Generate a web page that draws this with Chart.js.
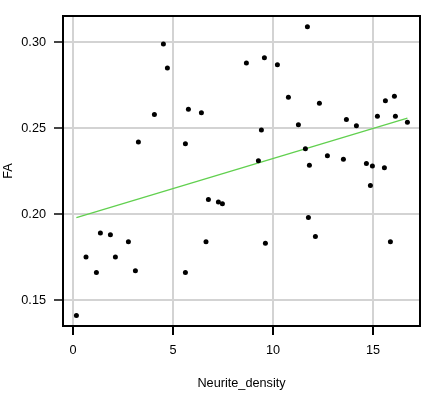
<!DOCTYPE html>
<html>
<head>
<meta charset="utf-8">
<script src="https://cdn.jsdelivr.net/npm/chart.js@4/dist/chart.umd.min.js"></script>
<style>
html,body{margin:0;padding:0;background:#fff;}
#wrap{width:435px;height:398px;}
</style>
</head>
<body>
<div id="wrap"><canvas id="c" width="435" height="398"></canvas></div>
<script>
const neuriteDensity = [0.17,0.65,1.17,1.37,1.87,2.12,2.77,3.12,3.27,4.07,4.52,4.72,5.62,5.62,5.77,6.42,6.65,6.77,7.27,7.47,8.67,9.27,9.42,9.57,9.62,10.22,10.77,11.27,11.62,11.72,11.77,11.82,12.12,12.32,12.72,13.52,13.67,14.17,14.67,14.87,14.97,15.22,15.57,15.62,15.87,16.07,16.12,16.72];
const faValues = [0.141,0.175,0.166,0.189,0.188,0.175,0.184,0.167,0.242,0.258,0.299,0.285,0.241,0.166,0.261,0.259,0.184,0.2085,0.207,0.206,0.288,0.231,0.249,0.291,0.183,0.287,0.268,0.252,0.238,0.309,0.198,0.2285,0.187,0.2645,0.234,0.232,0.255,0.2515,0.2295,0.2166,0.228,0.257,0.227,0.266,0.184,0.2686,0.257,0.2535];
const fitLineX = [0.17, 16.72];
const fitLineY = [0.198, 0.2558];
const xTicks = [0, 5, 10, 15];
const yTicks = [0.15, 0.20, 0.25, 0.30];
const yTickLabels = ["0.15", "0.20", "0.25", "0.30"];
const xTitle = "Neurite_density";
const yTitle = "FA";

const points = neuriteDensity.map((x, i) => ({x: x, y: faValues[i]}));
const fitPoints = fitLineX.map((x, i) => ({x: x, y: fitLineY[i]}));

const frame = {
  id: 'frame',
  afterDraw(chart) {
    const a = chart.chartArea, ctx = chart.ctx;
    ctx.save();
    ctx.strokeStyle = '#000';
    ctx.lineWidth = 2;
    ctx.strokeRect(a.left, a.top, a.right - a.left, a.bottom - a.top);
    ctx.restore();
  }
};

const font = {family: '"Liberation Sans", Arial, sans-serif', size: 12.7};

new Chart(document.getElementById('c'), {
  type: 'scatter',
  data: {
    datasets: [
      {
        type: 'line',
        data: fitPoints,
        borderColor: '#61D04F',
        borderWidth: 1.3,
        pointRadius: 0,
        fill: false,
        order: 1
      },
      {
        data: points,
        backgroundColor: '#000',
        borderWidth: 0,
        pointRadius: 2.5,
        order: 0
      }
    ]
  },
  options: {
    responsive: false,
    animation: false,
    layout: {padding: {left: 0, top: 16, right: 15, bottom: 0}},
    plugins: {legend: {display: false}, tooltip: {enabled: false}},
    scales: {
      x: {
        type: 'linear',
        min: -0.5,
        max: 17.35,
        afterBuildTicks(s) { s.ticks = xTicks.map(v => ({value: v})); },
        afterFit(s) { s.height = 72; },
        grid: {color: '#d3d3d3', lineWidth: 2, drawTicks: true, tickLength: 9, tickColor: '#000', tickWidth: 2},
        border: {display: false},
        ticks: {color: '#000', font: font, padding: 8, maxRotation: 0, callback: (v) => String(v)},
        title: {display: true, text: xTitle, color: '#000', font: font, padding: {top: 0, bottom: 7}}
      },
      y: {
        type: 'linear',
        min: 0.1349,
        max: 0.3153,
        afterBuildTicks(s) { s.ticks = yTicks.map(v => ({value: v})); },
        afterFit(s) { s.width = 63; },
        grid: {color: '#d3d3d3', lineWidth: 2, drawTicks: true, tickLength: 9, tickColor: '#444', tickWidth: 2},
        border: {display: false},
        ticks: {color: '#000', font: font, padding: 8,
          callback: (v) => { const i = yTicks.findIndex(t => Math.abs(t - v) < 1e-9); return i >= 0 ? yTickLabels[i] : ''; }},
        title: {display: true, text: yTitle, color: '#000', font: font, padding: {top: 1, bottom: 1}}
      }
    }
  },
  plugins: [frame]
});
</script>
</body>
</html>
